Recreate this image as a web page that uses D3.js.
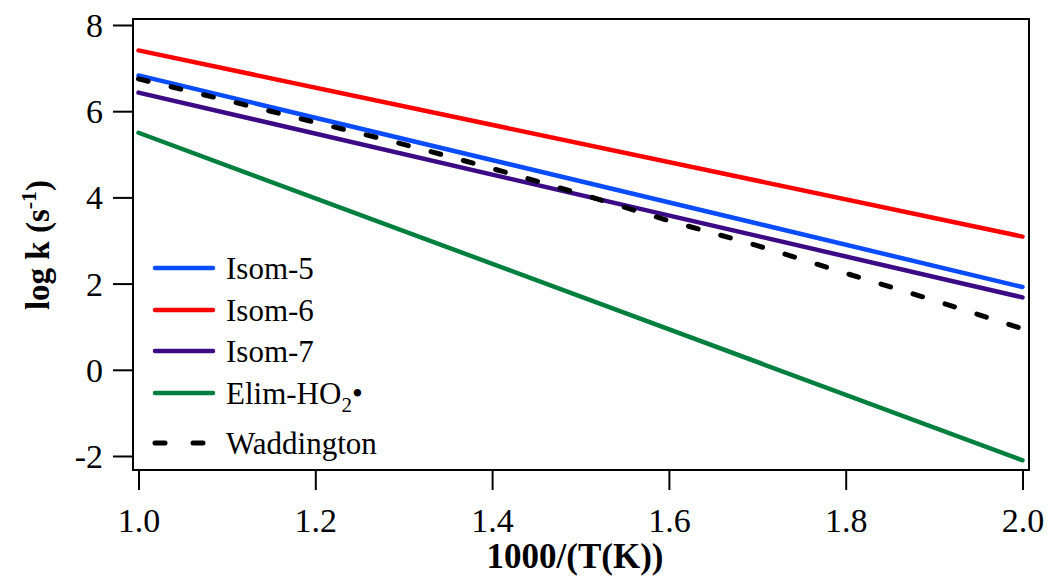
<!DOCTYPE html>
<html>
<head>
<meta charset="utf-8">
<script src="https://cdn.jsdelivr.net/npm/d3@7"></script>
<style>
  html, body { margin: 0; padding: 0; background: #fff; }
  svg { display: block; }
</style>
</head>
<body>
<svg id="chart" width="1048" height="579" style="font-family: 'Times New Roman', Tinos, 'Nimbus Roman', 'Liberation Serif';"></svg>
<script>
// ---- data ----
const xEnds = [1.0, 2.0];
const isom5 = [6.83, 1.92];
const isom6 = [7.41, 3.09];
const isom7 = [6.43, 1.68];
const elimHO2 = [5.50, -2.10];
const waddX = [1.0, 1.1, 1.2, 1.3, 1.4, 1.5, 1.6, 1.7, 1.8, 1.9, 2.0];
const waddY = [6.75, 6.25, 5.74, 5.23, 4.67, 4.08, 3.46, 2.88, 2.24, 1.61, 0.95];
const xTicks = [1.0, 1.2, 1.4, 1.6, 1.8, 2.0];
const yTicks = [-2, 0, 2, 4, 6, 8];
const seriesNames = ["Isom-5", "Isom-6", "Isom-7", "Elim-HO2•", "Waddington"];

const svg = d3.select("#chart");
const L = 133, R = 1029, T = 19, B = 470;
const FF = "'Times New Roman', Tinos, 'Nimbus Roman', 'Liberation Serif'";

const x = d3.scaleLinear().domain([0.99378, 2.00735]).range([L, R]);
const y = d3.scaleLinear().domain([-2.325, 8.139]).range([B, T]);

// axes
const xAxis = d3.axisBottom(x).tickValues(xTicks).tickFormat(d3.format(".1f")).tickSize(20).tickPadding(10);
const yAxis = d3.axisLeft(y).tickValues(yTicks).tickFormat(d => d).tickSize(20).tickPadding(10);

const gx = svg.append("g").attr("transform", `translate(0,${B})`).call(xAxis);
const gy = svg.append("g").attr("transform", `translate(${L},0)`).call(yAxis);
[gx, gy].forEach(g => {
  g.attr("font-family", null).style("font-family", FF).attr("font-size", 34);
  g.select(".domain").remove();
  g.selectAll(".tick line").attr("stroke", "#000").attr("stroke-width", 2);
  g.selectAll(".tick text").attr("fill", "#000").style("font-family", FF);
});
gx.selectAll(".tick text").attr("dy", "0.95em");
gy.selectAll(".tick text").attr("dy", "0.34em");

// frame
svg.append("rect").attr("x", L).attr("y", T).attr("width", R - L).attr("height", B - T)
  .attr("fill", "none").attr("stroke", "#000").attr("stroke-width", 2);

// lines
const line = d3.line().x(d => x(d[0])).y(d => y(d[1]));
const colors = ["#0a4cff", "#ff0000", "#3b0a84", "#007f3f"];
const series = [isom5, isom6, isom7, elimHO2].map((vals, k) => ({
  name: seriesNames[k], color: colors[k], pts: xEnds.map((v, i) => [v, vals[i]])
}));
series.forEach(s => {
  svg.append("path").attr("d", line(s.pts)).attr("fill", "none")
    .attr("stroke", s.color).attr("stroke-width", 4.5).attr("stroke-linecap", "round");
});
const wadd = waddX.map((v, i) => [v, waddY[i]]);
svg.append("path").attr("d", d3.line().curve(d3.curveMonotoneX).x(d => x(d[0])).y(d => y(d[1]))(wadd))
  .attr("fill", "none").attr("stroke", "#000").attr("stroke-width", 5)
  .attr("stroke-linecap", "round").attr("stroke-dasharray", "10,23.5");

// legend
const legY = [268, 310, 351, 393, 443];
const legG = svg.append("g").style("font-family", FF).attr("font-size", 31);
const legStyles = colors.map(c => ({ color: c, dash: null })).concat([{ color: "#000", dash: "10,28" }]);
legStyles.forEach((st, i) => {
  legG.append("line").attr("x1", 155).attr("x2", 213).attr("y1", legY[i]).attr("y2", legY[i])
    .attr("stroke", st.color).attr("stroke-width", st.dash ? 5 : 4.5)
    .attr("stroke-linecap", "round").attr("stroke-dasharray", st.dash);
  const t = legG.append("text").attr("x", 226).attr("y", legY[i] + 11).style("font-family", FF);
  if (i === 3) {
    t.append("tspan").text("Elim-HO");
    t.append("tspan").text("2").attr("font-size", 21).attr("dy", 8);
    t.append("tspan").text("•").attr("dy", -8);
  } else {
    t.text(seriesNames[i]);
  }
});

// axis titles
svg.append("text").attr("x", 575).attr("y", 568).attr("text-anchor", "middle")
  .attr("font-size", 35).attr("font-weight", "bold").style("font-family", FF)
  .text("1000/(T(K))");

const yt = svg.append("text").attr("transform", "translate(49,245) rotate(-90)")
  .attr("text-anchor", "middle").attr("font-size", 33).attr("font-weight", "bold")
  .style("font-family", FF);
yt.append("tspan").text("log k (s");
yt.append("tspan").text("-1").attr("font-size", 22).attr("dy", -13);
yt.append("tspan").text(")").attr("dy", 13);
</script>
</body>
</html>
